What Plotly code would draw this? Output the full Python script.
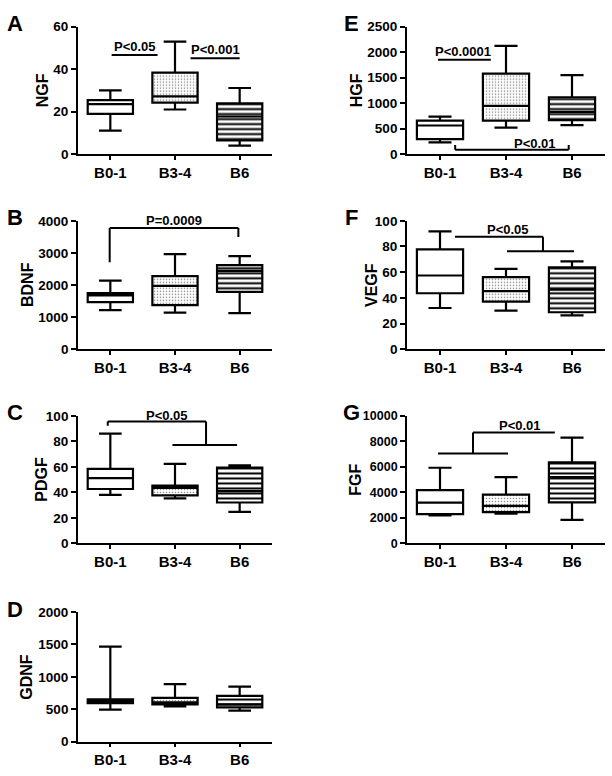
import plotly.graph_objects as go

GROUPS = ["B0-1", "B3-4", "B6"]

# ---- box statistics: min, Q1, median, Q3, max ----
NGF_MIN = [11.0, 21.0, 4.0]
NGF_Q1 = [18.9, 24.2, 6.5]
NGF_MED = [23.5, 27.2, 17.7]
NGF_Q3 = [25.4, 38.3, 23.9]
NGF_MAX = [30.0, 52.9, 31.1]
NGF_TICKS = [0, 20, 40, 60]

BDNF_MIN = [1221, 1142, 1125]
BDNF_Q1 = [1466, 1377, 1784]
BDNF_MED = [1679, 1975, 2439]
BDNF_Q3 = [1750, 2280, 2622]
BDNF_MAX = [2137, 2962, 2900]
BDNF_TICKS = [0, 1000, 2000, 3000, 4000]

PDGF_MIN = [38.1, 35.4, 24.8]
PDGF_Q1 = [42.7, 37.7, 32.1]
PDGF_MED = [51.2, 43.6, 41.0]
PDGF_Q3 = [58.5, 45.4, 59.5]
PDGF_MAX = [86.1, 62.4, 61.3]
PDGF_TICKS = [0, 20, 40, 60, 80, 100]

GDNF_MIN = [492, 543, 477]
GDNF_Q1 = [592, 574, 528]
GDNF_MED = [624, 604, 575]
GDNF_Q3 = [652, 675, 706]
GDNF_MAX = [1467, 888, 848]
GDNF_TICKS = [0, 500, 1000, 1500, 2000]

HGF_MIN = [230, 520, 570]
HGF_Q1 = [293, 655, 665]
HGF_MED = [561, 945, 828]
HGF_Q3 = [657, 1580, 1115]
HGF_MAX = [733, 2123, 1549]
HGF_TICKS = [0, 500, 1000, 1500, 2000, 2500]

VEGF_MIN = [32.1, 30.1, 26.3]
VEGF_Q1 = [43.6, 37.0, 28.8]
VEGF_MED = [57.4, 45.2, 46.4]
VEGF_Q3 = [77.8, 56.1, 63.8]
VEGF_MAX = [91.8, 62.5, 68.4]
VEGF_TICKS = [0, 20, 40, 60, 80, 100]

FGF_MIN = [2203, 2330, 1848]
FGF_Q1 = [2305, 2457, 3219]
FGF_MED = [3194, 2940, 5200]
FGF_Q3 = [4184, 3829, 6362]
FGF_MAX = [5937, 5200, 8292]
FGF_TICKS = [0, 2000, 4000, 6000, 8000, 10000]

# ---- significance labels ----
P_NGF = ["P<0.05", "P<0.001"]
P_BDNF = ["P=0.0009"]
P_PDGF = ["P<0.05"]
P_HGF = ["P<0.0001", "P<0.01"]
P_VEGF = ["P<0.05"]
P_FGF = ["P<0.01"]

W, H = 612, 776
FONT = "Liberation Sans, Arial, sans-serif"

COLS = [(78, 272), (407, 605)]
ROWS = [(20, 150), (218, 349), (417, 547), (617, 749)]

panels = [
    dict(letter="A", title="NGF", col=0, row=0, ticks=NGF_TICKS,
         stats=(NGF_MIN, NGF_Q1, NGF_MED, NGF_Q3, NGF_MAX),
         lines=[(0.02, 46.6, 0.73, 46.6), (1.24, 45.1, 2.0, 45.1)],
         texts=[(0.375, 50.8, P_NGF[0]), (1.62, 49.4, P_NGF[1])]),
    dict(letter="B", title="BDNF", col=0, row=1, ticks=BDNF_TICKS,
         stats=(BDNF_MIN, BDNF_Q1, BDNF_MED, BDNF_Q3, BDNF_MAX),
         lines=[(-0.01, 2707, -0.01, 3776), (-0.01, 3776, 1.98, 3776), (1.98, 3776, 1.98, 3495)],
         texts=[(0.99, 4000, P_BDNF[0])]),
    dict(letter="C", title="PDGF", col=0, row=2, ticks=PDGF_TICKS,
         stats=(PDGF_MIN, PDGF_Q1, PDGF_MED, PDGF_Q3, PDGF_MAX),
         lines=[(-0.04, 92.3, -0.04, 95.7), (-0.04, 95.7, 1.48, 95.7), (1.48, 95.7, 1.48, 77.3),
                (0.96, 77.3, 1.96, 77.3)],
         texts=[(0.88, 100, P_PDGF[0])]),
    dict(letter="D", title="GDNF", col=0, row=3, ticks=GDNF_TICKS,
         stats=(GDNF_MIN, GDNF_Q1, GDNF_MED, GDNF_Q3, GDNF_MAX),
         lines=[], texts=[]),
    dict(letter="E", title="HGF", col=1, row=0, ticks=HGF_TICKS,
         stats=(HGF_MIN, HGF_Q1, HGF_MED, HGF_Q3, HGF_MAX),
         lines=[(-0.03, 1850, 0.77, 1850), (0.23, 180, 0.23, 83), (0.23, 83, 1.95, 83), (1.95, 83, 1.95, 180)],
         texts=[(0.35, 2008, P_HGF[0]), (1.44, 215, P_HGF[1])]),
    dict(letter="F", title="VEGF", col=1, row=1, ticks=VEGF_TICKS,
         stats=(VEGF_MIN, VEGF_Q1, VEGF_MED, VEGF_Q3, VEGF_MAX),
         lines=[(0.227, 87.5, 1.56, 87.5), (1.56, 87.5, 1.56, 76.3), (1.015, 76.3, 2.03, 76.3)],
         texts=[(1.03, 93.6, P_VEGF[0])]),
    dict(letter="G", title="FGF", col=1, row=2, ticks=FGF_TICKS,
         stats=(FGF_MIN, FGF_Q1, FGF_MED, FGF_Q3, FGF_MAX),
         lines=[(-0.03, 7048, 1.03, 7048), (0.5, 7048, 0.5, 8698), (0.5, 8698, 1.74, 8698)],
         texts=[(1.21, 9237, P_FGF[0])]),
]

fig = go.Figure()
layout = dict(
    width=W, height=H, margin=dict(l=0, r=0, t=0, b=0),
    paper_bgcolor="white", plot_bgcolor="white", showlegend=False,
    font=dict(family=FONT, color="black", weight="bold"),
)
shapes = []
annotations = []

for i, p in enumerate(panels):
    n = "" if i == 0 else str(i + 1)
    xa, ya = "x" + n, "y" + n
    mn, q1, med, q3, mx = p["stats"]
    x0, x1 = COLS[p["col"]]
    top, bot = ROWS[p["row"]]

    fig.add_trace(go.Bar(
        x=GROUPS, y=[b - a for a, b in zip(q1, q3)], base=q1, width=0.7,
        xaxis=xa, yaxis=ya, hoverinfo="skip",
        marker=dict(color="white", line=dict(width=0),
                    pattern=dict(shape=["", ".", "-"], fgcolor=["black", "#8a8a8a", "black"],
                                 bgcolor="white", size=[4, 3, 5], solidity=[0.2, 0.22, 0.4],
                                 fillmode="replace")),
    ))
    fig.add_trace(go.Box(
        x=GROUPS, q1=q1, median=med, q3=q3, lowerfence=mn, upperfence=mx,
        xaxis=xa, yaxis=ya, boxpoints=False, width=0.7, whiskerwidth=0.5,
        fillcolor="rgba(0,0,0,0)", line=dict(color="black", width=2.2),
        hoverinfo="skip",
    ))

    layout["xaxis" + n] = dict(
        domain=[x0 / W, x1 / W], anchor=ya, type="category",
        categoryorder="array", categoryarray=GROUPS, range=[-0.5, 2.5],
        showline=True, linecolor="black", linewidth=1.8, ticks="outside",
        ticklen=4, tickwidth=1.5, tickcolor="black", showgrid=False, zeroline=False,
        tickfont=dict(family=FONT, size=15, color="black", weight="bold"),
    )
    layout["yaxis" + n] = dict(
        domain=[1 - bot / H, 1 - top / H], anchor=xa, range=[0, p["ticks"][-1]],
        tickvals=p["ticks"], ticktext=[str(t) for t in p["ticks"]],
        showline=True, linecolor="black", linewidth=1.8,
        ticks="outside", ticklen=5, tickwidth=1.5, tickcolor="black",
        showgrid=False, zeroline=False,
        tickfont=dict(family=FONT, size=13.5 if p["ticks"][-1] < 10000 else 12.5,
                      color="black", weight="bold"),
    )

    for (a, b, c, d) in p["lines"]:
        shapes.append(dict(type="line", xref=xa, yref=ya, x0=a, y0=b, x1=c, y1=d,
                           line=dict(color="black", width=2)))
    for (tx, ty, t) in p["texts"]:
        annotations.append(dict(xref=xa, yref=ya, x=tx, y=ty, text=t, showarrow=False,
                                xanchor="center", yanchor="middle",
                                font=dict(family=FONT, size=13, color="black", weight="bold")))

    # axis title and panel letter
    annotations.append(dict(xref="paper", yref="paper",
                            x=(x0 - (36 if p["ticks"][-1] < 1000 else 51)) / W,
                            y=1 - (top + bot) / 2 / H, text=p["title"], textangle=-90,
                            showarrow=False, xanchor="center", yanchor="middle",
                            font=dict(family=FONT, size=16, color="black", weight="bold")))
    annotations.append(dict(xref="paper", yref="paper",
                            x=(15 if p["col"] == 0 else 351) / W,
                            y=1 - (top - 3) / H, text=p["letter"], showarrow=False,
                            xanchor="center", yanchor="middle",
                            font=dict(family=FONT, size=22, color="black", weight="bold")))

layout["shapes"] = shapes
layout["annotations"] = annotations
fig.update_layout(**layout)
fig.write_html("out.html", config={"displayModeBar": False},
               post_script="document.body.style.margin='0';")
